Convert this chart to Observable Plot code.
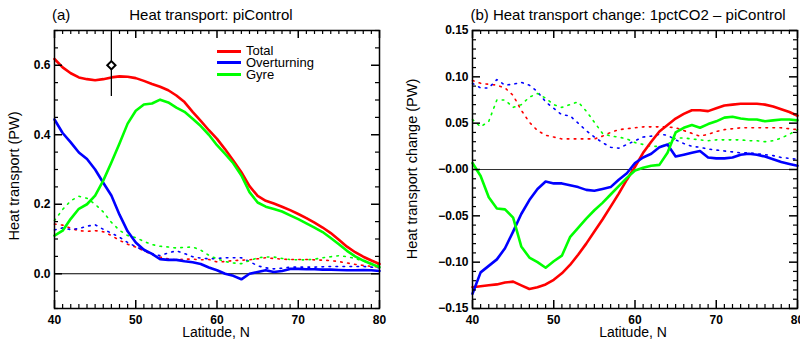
<!DOCTYPE html>
<html><head><meta charset="utf-8">
<script src="https://cdn.jsdelivr.net/npm/d3@7"></script>
<script src="https://cdn.jsdelivr.net/npm/@observablehq/plot@0.6"></script>
<style>
body{margin:0;background:#fff;}
#wrap{position:relative;width:800px;height:340px;background:#fff;font-family:"Liberation Sans",Arial,Helvetica,sans-serif;color:#000;overflow:hidden}
.abs{position:absolute;white-space:nowrap;line-height:1}
</style></head><body>
<div id="wrap"></div>
<script>
// ---------- data ----------
const lat = [40,41,42,43,44,45,46,47,48,49,50,51,52,53,54,55,56,57,58,59,60,61,62,63,64,65,66,67,68,69,70,71,72,73,74,75,76,77,78,79,80];

const totalPi = [0.618,0.594,0.577,0.565,0.560,0.557,0.560,0.565,0.568,0.567,0.563,0.555,0.546,0.538,0.528,0.513,0.494,0.466,0.440,0.413,0.388,0.358,0.326,0.292,0.252,0.224,0.210,0.202,0.193,0.183,0.172,0.160,0.147,0.133,0.117,0.098,0.078,0.062,0.049,0.038,0.028];
const overturningPi = [0.444,0.405,0.378,0.349,0.330,0.300,0.262,0.225,0.170,0.122,0.090,0.069,0.057,0.042,0.040,0.040,0.036,0.033,0.028,0.018,0.010,0.000,-0.006,-0.016,0.000,0.005,0.010,0.005,0.008,0.014,0.014,0.013,0.013,0.012,0.012,0.011,0.010,0.010,0.011,0.010,0.008];
const gyrePi = [0.110,0.124,0.158,0.187,0.200,0.225,0.268,0.320,0.375,0.432,0.469,0.487,0.490,0.501,0.493,0.478,0.466,0.446,0.425,0.400,0.370,0.345,0.318,0.283,0.235,0.205,0.193,0.186,0.179,0.168,0.157,0.145,0.133,0.120,0.103,0.085,0.066,0.050,0.038,0.028,0.019];
const totalPiDot = [0.143,0.140,0.131,0.124,0.122,0.124,0.121,0.110,0.096,0.085,0.077,0.066,0.055,0.048,0.043,0.040,0.042,0.042,0.040,0.041,0.034,0.035,0.038,0.039,0.040,0.043,0.046,0.044,0.042,0.041,0.041,0.041,0.040,0.039,0.038,0.035,0.031,0.027,0.024,0.021,0.019];
const overturningPiDot = [0.126,0.132,0.127,0.130,0.137,0.141,0.128,0.117,0.105,0.090,0.078,0.067,0.058,0.052,0.060,0.066,0.058,0.049,0.045,0.043,0.044,0.046,0.046,0.046,0.035,0.023,0.017,0.014,0.016,0.019,0.019,0.019,0.019,0.020,0.021,0.021,0.021,0.021,0.021,0.019,0.017];
const gyrePiDot = [0.153,0.185,0.210,0.223,0.217,0.200,0.178,0.148,0.125,0.110,0.104,0.093,0.084,0.079,0.077,0.074,0.076,0.077,0.068,0.053,0.043,0.035,0.031,0.029,0.038,0.046,0.048,0.048,0.044,0.041,0.040,0.040,0.042,0.046,0.049,0.052,0.049,0.044,0.037,0.030,0.024];
const obsLat = [47];
const obsValue = [0.6];
const obsErr = [0.09];

const totalDelta = [-0.127,-0.126,-0.125,-0.124,-0.122,-0.121,-0.125,-0.129,-0.127,-0.124,-0.119,-0.112,-0.103,-0.092,-0.080,-0.067,-0.054,-0.040,-0.026,-0.011,0.003,0.018,0.030,0.041,0.048,0.055,0.060,0.064,0.064,0.063,0.066,0.069,0.070,0.071,0.071,0.071,0.070,0.068,0.065,0.062,0.058];
const overturningDelta = [-0.134,-0.111,-0.104,-0.097,-0.085,-0.067,-0.048,-0.033,-0.021,-0.013,-0.015,-0.015,-0.017,-0.019,-0.022,-0.023,-0.021,-0.019,-0.011,-0.004,0.007,0.013,0.017,0.024,0.027,0.014,0.016,0.018,0.020,0.013,0.012,0.012,0.013,0.016,0.017,0.016,0.014,0.011,0.008,0.006,0.004];
const gyreDelta = [0.007,-0.007,-0.030,-0.042,-0.043,-0.052,-0.083,-0.095,-0.100,-0.106,-0.099,-0.093,-0.073,-0.063,-0.053,-0.044,-0.036,-0.027,-0.018,-0.009,-0.001,0.002,0.004,0.005,0.018,0.040,0.045,0.048,0.045,0.049,0.052,0.056,0.057,0.055,0.054,0.054,0.052,0.053,0.054,0.054,0.053];
const totalDeltaDot = [0.096,0.093,0.092,0.091,0.088,0.080,0.064,0.051,0.042,0.037,0.035,0.033,0.033,0.033,0.033,0.033,0.036,0.040,0.043,0.044,0.045,0.046,0.046,0.046,0.046,0.045,0.042,0.039,0.036,0.038,0.041,0.043,0.044,0.045,0.045,0.045,0.045,0.045,0.045,0.044,0.043];
const overturningDeltaDot = [0.093,0.088,0.088,0.097,0.091,0.092,0.094,0.091,0.084,0.073,0.066,0.059,0.058,0.050,0.042,0.035,0.029,0.024,0.023,0.027,0.031,0.035,0.036,0.038,0.037,0.032,0.028,0.025,0.024,0.022,0.021,0.020,0.019,0.018,0.018,0.017,0.016,0.015,0.013,0.012,0.011];
const gyreDeltaDot = [0.054,0.046,0.052,0.075,0.075,0.067,0.070,0.078,0.082,0.077,0.070,0.067,0.070,0.073,0.063,0.051,0.039,0.036,0.035,0.033,0.029,0.027,0.025,0.025,0.027,0.034,0.034,0.033,0.032,0.031,0.032,0.032,0.032,0.032,0.031,0.031,0.030,0.031,0.034,0.038,0.043];

const seriesNames = ["Total","Overturning","Gyre"];
const seriesColors = ["#ff0000","#0000ff","#00ff00"];
const xTicks = [40,50,60,70,80];
const xMinorTicks = [41,42,43,44,45,46,47,48,49,51,52,53,54,55,56,57,58,59,61,62,63,64,65,66,67,68,69,71,72,73,74,75,76,77,78,79];
const yTicksA = [0,0.2,0.4,0.6];
const yTickLabelsA = ["0.0","0.2","0.4","0.6"];
const yMinorA = [-0.1,-0.05,0.05,0.1,0.15,0.25,0.3,0.35,0.45,0.5,0.55,0.65,0.7];
const yTicksB = [-0.15,-0.10,-0.05,0,0.05,0.10,0.15];
const yTickLabelsB = ["\u22120.15","\u22120.10","\u22120.05","\u22120.00","0.05","0.10","0.15"];
const yMinorB = [-0.14,-0.13,-0.12,-0.11,-0.09,-0.08,-0.07,-0.06,-0.04,-0.03,-0.02,-0.01,0.01,0.02,0.03,0.04,0.06,0.07,0.08,0.09,0.11,0.12,0.13,0.14];

// ---------- helpers ----------
const rows = vals => lat.map((l,i)=>({lat:l, v:vals[i]}));
const FONT = "'Liberation Sans', Arial, Helvetica, sans-serif";
const H = 340, MT = 30, MB = 32;
const innerH = H - MT - MB;

// inward tick marks: frame-spanning rules trimmed by insets (same form as a verified test)
function tickMarks(xs, ys, len, sw, innerW, col) {
  return [
    Plot.ruleX(xs, {stroke:col, strokeWidth:sw, insetTop: innerH - len}),
    Plot.ruleX(xs, {stroke:col, strokeWidth:sw, insetBottom: innerH - len}),
    Plot.ruleY(ys, {stroke:col, strokeWidth:sw, insetRight: innerW - len}),
    Plot.ruleY(ys, {stroke:col, strokeWidth:sw, insetLeft: innerW - len})
  ];
}

function panel(opts) {
  const innerW = 400 - opts.ml - opts.mr;
  const marks = [
    Plot.ruleY([0], {stroke: opts.zeroColor, strokeWidth: 1.2}),
    ...opts.dotted.map((vals,i)=> Plot.line(rows(vals), {x:"lat", y:"v", stroke:seriesColors[i], strokeWidth:1.6, strokeDasharray:"1.6,5.4"})),
    ...opts.solid.map((vals,i)=> Plot.line(rows(vals), {x:"lat", y:"v", stroke:seriesColors[i], strokeWidth:2.6})),
    ...(opts.extra || []),
    Plot.frame({stroke:"black", strokeWidth:1.5}),
    ...tickMarks(xMinorTicks, opts.yMinor, 4, 1.2, innerW, "#000"),
    ...tickMarks(xTicks, opts.yMajor, 8, 1.5, innerW, "#000"),
    Plot.axisX(xTicks, {anchor:"bottom", tickSize:0, tickPadding:6.5, tickFormat:d=>String(d), label:null, fontWeight:"bold", fontSize:12}),
    Plot.axisY(opts.yMajor, {anchor:"left", tickSize:0, tickPadding:4, tickFormat:d=>opts.yLabels[opts.yMajor.indexOf(d)], label:null, fontWeight:"bold", fontSize:12})
  ];
  return Plot.plot({
    width: 400, height: H,
    marginLeft: opts.ml, marginRight: opts.mr, marginTop: MT, marginBottom: MB,
    x: {domain: [40, 80]},
    y: {domain: opts.yDomain},
    marks
  });
}

const obs = obsLat.map((l,i)=>({lat:l, v:obsValue[i], e:obsErr[i]}));

const plotA = panel({
  ml: 54, mr: 21, yDomain: [-0.1, 0.7], zeroColor: "black",
  solid: [totalPi, overturningPi, gyrePi], dotted: [totalPiDot, overturningPiDot, gyrePiDot],
  yMajor: yTicksA, yLabels: yTickLabelsA, yMinor: yMinorA,
  extra: [
    Plot.ruleX(obs, {x:"lat", y1:d=>d.v-d.e, y2:d=>d.v+d.e, stroke:"black", strokeWidth:1.3}),
    Plot.dot(obs, {x:"lat", y:"v", symbol:"square", rotate:45, r:3.3, stroke:"black", strokeWidth:2, fill:"white"})
  ]
});
const plotB = panel({
  ml: 72, mr: 3, yDomain: [-0.15, 0.15], zeroColor: "#333",
  solid: [totalDelta, overturningDelta, gyreDelta], dotted: [totalDeltaDot, overturningDeltaDot, gyreDeltaDot],
  yMajor: yTicksB, yLabels: yTickLabelsB, yMinor: yMinorB
});

// ---------- layout ----------
const wrap = document.getElementById("wrap");
for (const [p, left] of [[plotA, 0], [plotB, 400]]) {
  p.style.position = "absolute"; p.style.left = left + "px"; p.style.top = "0px";
  p.style.fontFamily = FONT; p.style.fontSize = "12px";
  wrap.appendChild(p);
}

function label(text, css) {
  const d = document.createElement("div");
  d.className = "abs"; d.textContent = text;
  Object.assign(d.style, css);
  wrap.appendChild(d); return d;
}
label("(a)", {left:"52px", top:"6.5px", fontSize:"15px"});
label("Heat transport: piControl", {left:"211px", top:"6.5px", fontSize:"15px", transform:"translateX(-50%)"});
label("(b) Heat transport change: 1pctCO2 \u2013 piControl", {left:"628px", top:"6.5px", fontSize:"15px", transform:"translateX(-50%)"});
label("Latitude, N", {left:"216px", top:"326px", fontSize:"14px", lineHeight:"12px", transform:"translateX(-50%)"});
label("Latitude, N", {left:"633px", top:"326px", fontSize:"14px", lineHeight:"12px", transform:"translateX(-50%)"});
label("Heat transport (PW)", {left:"14px", top:"176px", fontSize:"14.5px", transform:"translate(-50%,-50%) rotate(-90deg)"});
label("Heat transport change (PW)", {left:"412px", top:"169px", fontSize:"14.5px", transform:"translate(-50%,-50%) rotate(-90deg)"});
const legendY = [51, 62.7, 74.3];
seriesNames.forEach((name,i)=>{
  const ln = document.createElement("div");
  Object.assign(ln.style, {position:"absolute", left:"217px", top:(legendY[i]-1.5)+"px", width:"24px", height:"3px", background:seriesColors[i]});
  wrap.appendChild(ln);
  label(name, {left:"246px", top:(legendY[i]-5.7)+"px", fontSize:"13px", lineHeight:"11px"});
});
</script>
</body></html>
